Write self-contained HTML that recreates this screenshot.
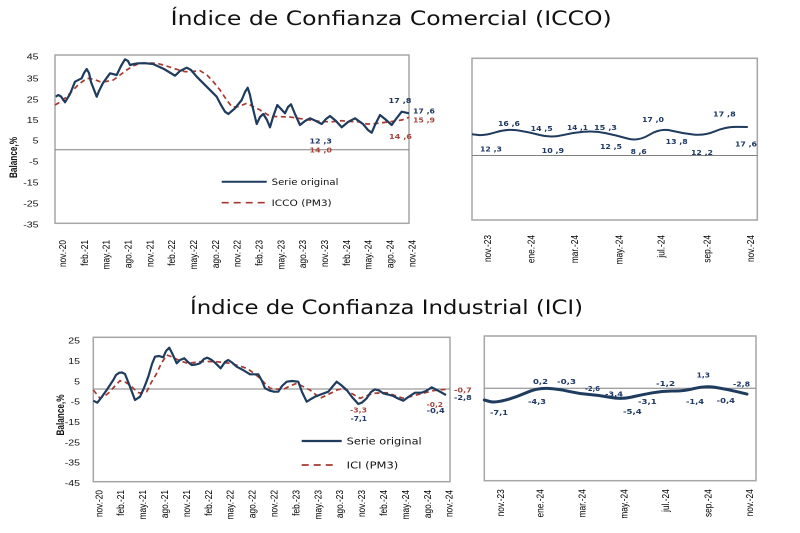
<!DOCTYPE html>
<html>
<head>
<meta charset="utf-8">
<style>
html,body{margin:0;padding:0;background:#fff;}
svg{display:block;}
.tk{font-family:"Liberation Sans",Arial,sans-serif;font-size:8.6px;fill:#111;}
.xl{font-family:"Liberation Sans",Arial,sans-serif;font-size:8.3px;fill:#000;}
.dl{font-family:"DejaVu Sans","Liberation Sans",sans-serif;font-size:7.2px;font-weight:bold;}
.lg{font-family:"DejaVu Sans","Liberation Sans",sans-serif;fill:#111;}
.ti{font-family:"DejaVu Sans","Liberation Sans",sans-serif;font-size:19.5px;fill:#111;}
.bl{font-family:"Liberation Sans",Arial,sans-serif;font-size:8.2px;font-weight:bold;fill:#111;}
</style>
</head>
<body>
<svg width="800" height="533" viewBox="0 0 800 533" xmlns="http://www.w3.org/2000/svg">
<rect width="800" height="533" fill="#fff"/>

<!-- Titles -->
<text class="ti" x="170.7" y="25" textLength="441" lengthAdjust="spacingAndGlyphs">Índice de Confianza Comercial (ICCO)</text>
<text class="ti" x="190" y="314" textLength="393" lengthAdjust="spacingAndGlyphs">Índice de Confianza Industrial (ICI)</text>

<!-- ================= TOP LEFT ================= -->
<rect x="55" y="55" width="354" height="168.3" fill="none" stroke="#a6a6a6" stroke-width="1.5"/>
<line x1="55" y1="149.7" x2="409" y2="149.7" stroke="#808080" stroke-width="1"/>
<g class="tk" text-anchor="end">
<text transform="matrix(1.23 0 0 1 38.5 59.7)">45</text>
<text transform="matrix(1.23 0 0 1 38.5 81.3)">35</text>
<text transform="matrix(1.23 0 0 1 38.5 102.3)">25</text>
<text transform="matrix(1.23 0 0 1 38.5 123)">15</text>
<text transform="matrix(1.23 0 0 1 38.5 143.7)">5</text>
<text transform="matrix(1.23 0 0 1 38.5 164.7)">-5</text>
<text transform="matrix(1.23 0 0 1 38.5 185.7)">-15</text>
<text transform="matrix(1.23 0 0 1 38.5 206.7)">-25</text>
<text transform="matrix(1.23 0 0 1 38.5 227.7)">-35</text>
</g>
<text class="bl" text-anchor="middle" transform="matrix(0 -1 1.4 0 17 157.5)">Balance,%</text>
<g class="xl" text-anchor="end">
<text transform="matrix(0 -1 1.23 0 66 240)">nov.-20</text>
<text transform="matrix(0 -1 1.23 0 87.8 240)">feb.-21</text>
<text transform="matrix(0 -1 1.23 0 109.7 240)">may.-21</text>
<text transform="matrix(0 -1 1.23 0 131.5 240)">ago.-21</text>
<text transform="matrix(0 -1 1.23 0 153.3 240)">nov.-21</text>
<text transform="matrix(0 -1 1.23 0 175.2 240)">feb.-22</text>
<text transform="matrix(0 -1 1.23 0 197 240)">may.-22</text>
<text transform="matrix(0 -1 1.23 0 218.8 240)">ago.-22</text>
<text transform="matrix(0 -1 1.23 0 240.6 240)">nov.-22</text>
<text transform="matrix(0 -1 1.23 0 262.5 240)">feb.-23</text>
<text transform="matrix(0 -1 1.23 0 284.3 240)">may.-23</text>
<text transform="matrix(0 -1 1.23 0 306.1 240)">ago.-23</text>
<text transform="matrix(0 -1 1.23 0 328 240)">nov.-23</text>
<text transform="matrix(0 -1 1.23 0 349.8 240)">feb.-24</text>
<text transform="matrix(0 -1 1.23 0 371.6 240)">may.-24</text>
<text transform="matrix(0 -1 1.23 0 393.5 240)">ago.-24</text>
<text transform="matrix(0 -1 1.23 0 415.3 240)">nov.-24</text>
</g>
<polyline fill="none" stroke="#a63a31" stroke-width="1.7" stroke-dasharray="5 3.5" points="55,105 62,101 70,93.3 78,85 86.7,78.3 93,79 100,81.7 106,81.5 113.3,80 120,75 126.7,70 133,66 140,63.3 148,63 156.7,63.3 165,65.5 173.3,68.3 185,71.7 192,71.5 200,70.7 207,75 213.3,81.7 220,90 226.7,100 232,107 238,106.7 246.7,103.3 253,106.5 260,110 268,115 275,116.5 281.7,116.7 290,117 298,118.3 310,120 321.7,121.7 333,121.7 341.7,120.7 353,121.7 358,121.7 366.7,124 371.7,124 380,123 391.7,121.5 401.7,120 409,117.3"/>
<polyline fill="none" stroke="#1f3b5e" stroke-width="2.2" stroke-linejoin="round" points="55.7,96.7 58.3,95 61,96.5 65,102.3 70,94 75,81.7 81.7,78.3 84,73 86.7,69 89,73 91,82 96.7,96.7 99,91 103,83 110,73.3 116.7,75 121,66 125,59.3 128,61 130,65 134,64 138,63.3 145,63.2 153,64 164,69 175,75.7 180,71 186.7,67.7 191,70 196.7,76.7 206.7,86.7 216.7,96.7 221,105 225,111.7 228.3,114 235,108.3 241.7,100 245,92 247.7,87.7 250,95 251.7,103.3 256.7,124 260,117 263.3,114 267,120 270,127.3 273,117 277.3,105 281,109 285,113.3 288,107 291,104.3 295,114 300,125 305,121 310,118.3 316,121 321.7,124 326,119 330,116 336,121 341.7,127.3 348,122 355,118.3 363,124 368,130 371.7,132.7 375,125 380,115 385,119 391.7,125 396,119 401.7,111.7 409,113.3"/>
<!-- legend -->
<line x1="221.7" y1="181.7" x2="266.7" y2="181.7" stroke="#1f3b5e" stroke-width="2"/>
<text class="lg" x="271.7" y="185" font-size="9.2" textLength="66.7" lengthAdjust="spacingAndGlyphs">Serie original</text>
<line x1="221.7" y1="202.7" x2="266.7" y2="202.7" stroke="#a63a31" stroke-width="1.7" stroke-dasharray="7 5"/>
<text class="lg" x="271.7" y="206" font-size="9.2" textLength="60" lengthAdjust="spacingAndGlyphs">ICCO (PM3)</text>
<!-- data labels -->
<g class="dl" fill="#1f3864">
<text x="388.5" y="103" textLength="23" lengthAdjust="spacingAndGlyphs">17 ,8</text>
<text x="413" y="113.5" textLength="22" lengthAdjust="spacingAndGlyphs">17 ,6</text>
<text x="309.5" y="143.5" textLength="22.5" lengthAdjust="spacingAndGlyphs">12 ,3</text>
</g>
<g class="dl" fill="#a5473f">
<text x="413" y="122.5" textLength="22" lengthAdjust="spacingAndGlyphs">15 ,9</text>
<text x="389" y="139" textLength="23" lengthAdjust="spacingAndGlyphs">14 ,6</text>
<text x="309.5" y="152.5" textLength="22.5" lengthAdjust="spacingAndGlyphs">14 ,0</text>
</g>

<!-- ================= TOP RIGHT ================= -->
<rect x="472" y="58.3" width="285.3" height="161.7" fill="none" stroke="#a6a6a6" stroke-width="1.5"/>
<line x1="472" y1="155.5" x2="757.3" y2="155.5" stroke="#808080" stroke-width="1"/>
<path fill="none" stroke="#1f3b5e" stroke-width="2" d="M472,134.3 L478.5,135 Q485,135.6 496,132.2 Q506.9,128.7 517.9,130.4 Q528.8,132.1 539.8,135 Q550.7,137.9 561.7,135.3 Q572.6,132.7 583.6,131.8 Q594.5,130.8 605.5,133.1 Q616.4,135.3 627.4,138.5 Q638.3,141.6 649.3,134.8 Q660.2,128 671.2,130.6 Q682.1,133.2 693.1,134.5 Q704,135.8 715,131.3 Q725.9,126.7 736.9,126.9 L747.8,127"/>
<g class="dl" fill="#1f3864">
<text x="480" y="151.5" textLength="22" lengthAdjust="spacingAndGlyphs">12 ,3</text>
<text x="498" y="126" textLength="22" lengthAdjust="spacingAndGlyphs">16 ,6</text>
<text x="530.7" y="131" textLength="22" lengthAdjust="spacingAndGlyphs">14 ,5</text>
<text x="541.7" y="153" textLength="22.3" lengthAdjust="spacingAndGlyphs">10 ,9</text>
<text x="567" y="130" textLength="21" lengthAdjust="spacingAndGlyphs">14 ,1</text>
<text x="594" y="130" textLength="23" lengthAdjust="spacingAndGlyphs">15 ,3</text>
<text x="600" y="149" textLength="22" lengthAdjust="spacingAndGlyphs">12 ,5</text>
<text x="630.7" y="154" textLength="16" lengthAdjust="spacingAndGlyphs">8 ,6</text>
<text x="642" y="122" textLength="22" lengthAdjust="spacingAndGlyphs">17 ,0</text>
<text x="665.7" y="144" textLength="22" lengthAdjust="spacingAndGlyphs">13 ,8</text>
<text x="691" y="155" textLength="22" lengthAdjust="spacingAndGlyphs">12 ,2</text>
<text x="713" y="116.5" textLength="22.7" lengthAdjust="spacingAndGlyphs">17 ,8</text>
<text x="735" y="146.5" textLength="22" lengthAdjust="spacingAndGlyphs">17 ,6</text>
</g>
<g class="xl" text-anchor="end">
<text transform="matrix(0 -1 1.23 0 491 235)">nov.-23</text>
<text transform="matrix(0 -1 1.23 0 534.7 235)">ene.-24</text>
<text transform="matrix(0 -1 1.23 0 578 235)">mar.-24</text>
<text transform="matrix(0 -1 1.23 0 622.3 235)">may.-24</text>
<text transform="matrix(0 -1 1.23 0 664.7 235)">jul.-24</text>
<text transform="matrix(0 -1 1.23 0 710.3 235)">sep.-24</text>
<text transform="matrix(0 -1 1.23 0 754 235)">nov.-24</text>
</g>

<!-- ================= BOTTOM LEFT ================= -->
<rect x="93.3" y="337.3" width="356.7" height="144.4" fill="none" stroke="#a6a6a6" stroke-width="1.5"/>
<line x1="93.3" y1="389" x2="450" y2="389" stroke="#808080" stroke-width="1"/>
<g class="tk" text-anchor="end">
<text transform="matrix(1.23 0 0 1 80 343.7)">25</text>
<text transform="matrix(1.23 0 0 1 80 364)">15</text>
<text transform="matrix(1.23 0 0 1 80 384.3)">5</text>
<text transform="matrix(1.23 0 0 1 80 404.7)">-5</text>
<text transform="matrix(1.23 0 0 1 80 425)">-15</text>
<text transform="matrix(1.23 0 0 1 80 445.3)">-25</text>
<text transform="matrix(1.23 0 0 1 80 465.7)">-35</text>
<text transform="matrix(1.23 0 0 1 80 486)">-45</text>
</g>
<text class="bl" text-anchor="middle" transform="matrix(0 -1 1.4 0 64 415)">Balance,%</text>
<g class="xl" text-anchor="end">
<text transform="matrix(0 -1 1.23 0 102.3 490)">nov.-20</text>
<text transform="matrix(0 -1 1.23 0 124.2 490)">feb.-21</text>
<text transform="matrix(0 -1 1.23 0 146.1 490)">may.-21</text>
<text transform="matrix(0 -1 1.23 0 168 490)">ago.-21</text>
<text transform="matrix(0 -1 1.23 0 189.9 490)">nov.-21</text>
<text transform="matrix(0 -1 1.23 0 211.8 490)">feb.-22</text>
<text transform="matrix(0 -1 1.23 0 233.7 490)">may.-22</text>
<text transform="matrix(0 -1 1.23 0 255.6 490)">ago.-22</text>
<text transform="matrix(0 -1 1.23 0 277.5 490)">nov.-22</text>
<text transform="matrix(0 -1 1.23 0 299.4 490)">feb.-23</text>
<text transform="matrix(0 -1 1.23 0 321.3 490)">may.-23</text>
<text transform="matrix(0 -1 1.23 0 343.2 490)">ago.-23</text>
<text transform="matrix(0 -1 1.23 0 365.1 490)">nov.-23</text>
<text transform="matrix(0 -1 1.23 0 387 490)">feb.-24</text>
<text transform="matrix(0 -1 1.23 0 408.9 490)">may.-24</text>
<text transform="matrix(0 -1 1.23 0 430.8 490)">ago.-24</text>
<text transform="matrix(0 -1 1.23 0 452.7 490)">nov.-24</text>
</g>
<polyline fill="none" stroke="#a63a31" stroke-width="1.7" stroke-dasharray="5 3.5" points="93.3,390 100,398.3 104,396.5 108.3,393.3 114,387 120,380.7 125,382 130,385 134,389 138.3,392.7 142,393 146.7,391.7 151,383 156.7,373.3 161,364 166.7,355 171,356.5 176.7,359.3 182,361.5 188.3,363.3 194,362.5 200,361.7 208,361.5 216.7,361.7 223,362.5 230,363.3 238,365.5 246.7,368.3 253,372.5 260,378.3 265,383.5 270,388.3 276,389 283.3,389.3 290,386 296.7,383.3 303,386.5 310,390 315,394 320,398.3 326,395.5 331.7,392.7 337,390 343.3,388.3 351,393 360,398.3 366,396 373.3,393.3 380,393 386.7,392.7 395,395.5 403.3,398.3 411,396.5 420,394 426,392.5 433.3,390.7 440,389.8 446.7,389.3"/>
<polyline fill="none" stroke="#1f3b5e" stroke-width="2.2" stroke-linejoin="round" points="93.3,400.7 97.3,402.7 101,398 106.7,390 113.3,380 116,375 119.3,372.7 122,372.5 125,374 130,386.7 135,400 140,396.7 144,388 148.3,376.7 152,364 155,356.7 159,356 163.3,357.3 166,351 169.3,347.7 172,353 176.7,363.3 180,360 184.3,358.3 188,362 191.7,365 196,364.5 200,363.3 204,359 207.3,357.7 211,359.5 215,362.7 220.7,368.3 225,362 228.3,360 232,362.5 236.7,366.7 243,370 250,374.3 258.3,374.3 262,381 265,388.3 270,390.7 274,391.7 278.3,391.7 282,386 286.7,381.7 292,381 298.3,381.7 302,392 306.7,401.7 311,399 315,396.7 322,394 328.3,391.7 333,386 336.7,381.7 341,385 346.7,390 352,397 358.3,404 362,402.5 366.7,398.3 371,392 375,389.3 379,390.5 383.3,393.3 388,394.5 393.3,396 398,398.5 403.3,400.7 409,396.5 415,392.7 421.7,392.7 426,391 431.7,387.3 436,389.5 440,391.7 446,395"/>
<!-- legend -->
<line x1="301.7" y1="441" x2="341.7" y2="441" stroke="#1f3b5e" stroke-width="2.2"/>
<text class="lg" x="346.7" y="444.7" font-size="10" textLength="75" lengthAdjust="spacingAndGlyphs">Serie original</text>
<line x1="301.7" y1="465" x2="333.3" y2="465" stroke="#a63a31" stroke-width="1.7" stroke-dasharray="7 5"/>
<text class="lg" x="346.7" y="468.7" font-size="10" textLength="51.6" lengthAdjust="spacingAndGlyphs">ICI (PM3)</text>
<g class="dl" fill="#a5473f">
<text x="350" y="412.5" textLength="17" lengthAdjust="spacingAndGlyphs">-3,3</text>
<text x="426.7" y="407" textLength="16.3" lengthAdjust="spacingAndGlyphs">-0,2</text>
<text x="454" y="392.5" textLength="17.7" lengthAdjust="spacingAndGlyphs">-0,7</text>
</g>
<g class="dl" fill="#1f3864">
<text x="350.7" y="421" textLength="16.3" lengthAdjust="spacingAndGlyphs">-7,1</text>
<text x="426.7" y="412.8" textLength="18" lengthAdjust="spacingAndGlyphs">-0,4</text>
<text x="454" y="400.2" textLength="17.7" lengthAdjust="spacingAndGlyphs">-2,8</text>
</g>

<!-- ================= BOTTOM RIGHT ================= -->
<rect x="484.3" y="336" width="271.7" height="144.7" fill="none" stroke="#a6a6a6" stroke-width="1.5"/>
<line x1="484.3" y1="388.3" x2="756" y2="388.3" stroke="#808080" stroke-width="1"/>
<path fill="none" stroke="#1f3b5e" stroke-width="3" stroke-linecap="round" d="M484.3,400 L489.7,401.5 Q495,402.9 505.5,400.1 Q516,397.2 526.5,392.6 Q537,387.9 547.5,388.4 Q558,388.9 568.5,391.3 Q579,393.7 589.5,394.5 Q600,395.3 610.5,397.4 Q621,399.4 631.5,397.1 Q642,394.7 652.5,392.8 Q663,390.8 673.5,391 Q684,391.2 694.5,388.4 Q705,385.6 715.5,387.4 Q726,389.1 736.5,391.6 L747,394.1"/>
<g class="dl" fill="#1f3864">
<text x="490" y="414.8" textLength="18" lengthAdjust="spacingAndGlyphs">-7,1</text>
<text x="533" y="384.2" textLength="15" lengthAdjust="spacingAndGlyphs">0,2</text>
<text x="528" y="404.2" textLength="18" lengthAdjust="spacingAndGlyphs">-4,3</text>
<text x="557" y="384.2" textLength="19" lengthAdjust="spacingAndGlyphs">-0,3</text>
<text x="585" y="390.8" textLength="15" lengthAdjust="spacingAndGlyphs">-2,6</text>
<text x="605" y="396.5" textLength="18" lengthAdjust="spacingAndGlyphs">-3,4</text>
<text x="623" y="414.2" textLength="18.7" lengthAdjust="spacingAndGlyphs">-5,4</text>
<text x="638" y="404.2" textLength="18.7" lengthAdjust="spacingAndGlyphs">-3,1</text>
<text x="656" y="385.8" textLength="19" lengthAdjust="spacingAndGlyphs">-1,2</text>
<text x="686" y="404.2" textLength="18" lengthAdjust="spacingAndGlyphs">-1,4</text>
<text x="696.7" y="377.5" textLength="13.3" lengthAdjust="spacingAndGlyphs">1,3</text>
<text x="716.7" y="403.2" textLength="18.3" lengthAdjust="spacingAndGlyphs">-0,4</text>
<text x="733" y="386.5" textLength="17" lengthAdjust="spacingAndGlyphs">-2,8</text>
</g>
<g class="xl" text-anchor="end">
<text transform="matrix(0 -1 1.23 0 504 489.3)">nov.-23</text>
<text transform="matrix(0 -1 1.23 0 543.7 489.3)">ene.-24</text>
<text transform="matrix(0 -1 1.23 0 585.7 489.3)">mar.-24</text>
<text transform="matrix(0 -1 1.23 0 627.3 489.3)">may.-24</text>
<text transform="matrix(0 -1 1.23 0 669 489.3)">jul.-24</text>
<text transform="matrix(0 -1 1.23 0 711.3 489.3)">sep.-24</text>
<text transform="matrix(0 -1 1.23 0 753 489.3)">nov.-24</text>
</g>
</svg>
</body>
</html>
